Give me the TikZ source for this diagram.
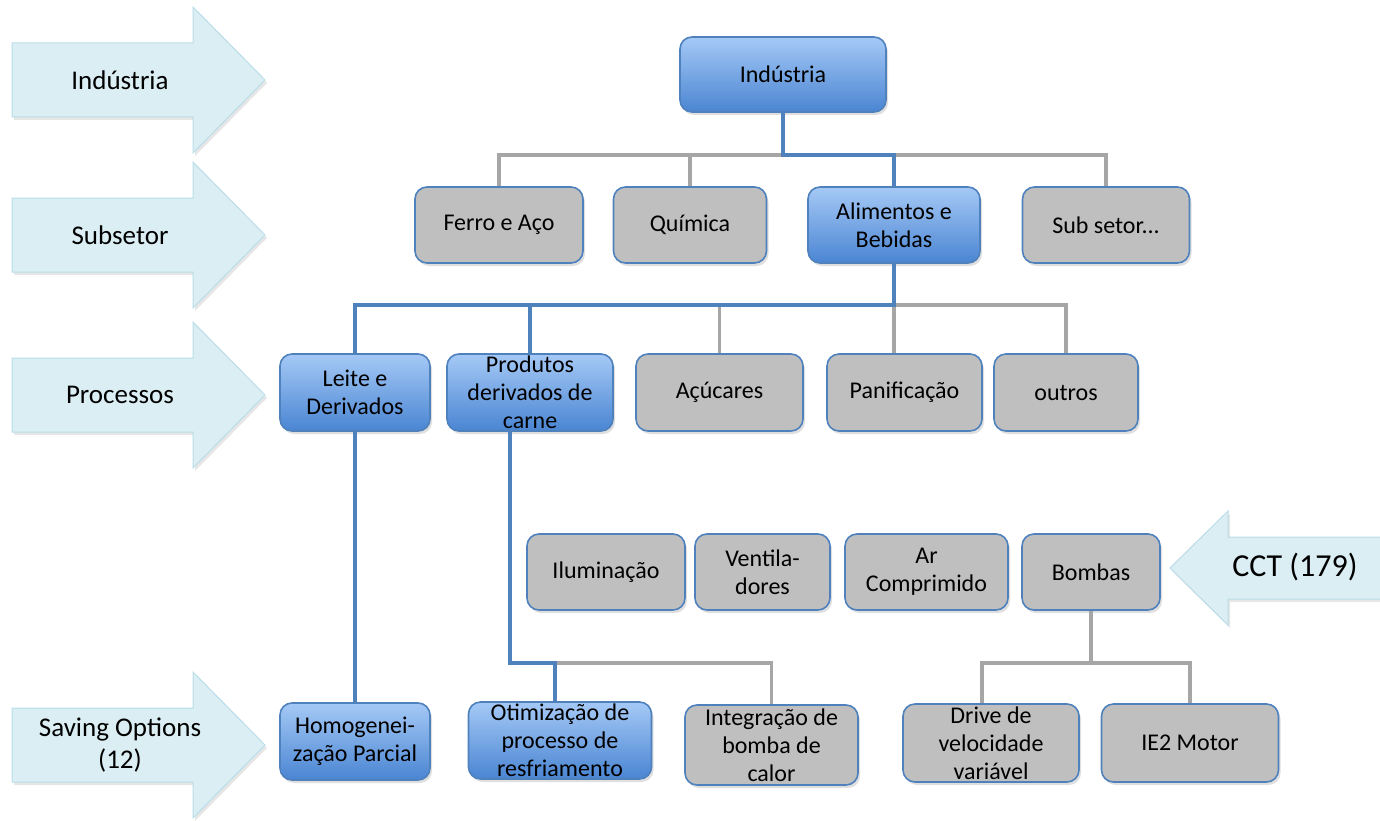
\documentclass[tikz,border=0pt]{standalone}
\usepackage{fontspec}
\setmainfont{Carlito}
\usetikzlibrary{positioning,shadows}

\definecolor{boxline}{HTML}{4F81BD}
\definecolor{boxgray}{HTML}{BFBFBF}
\definecolor{bluetop}{HTML}{A5C9F6}
\definecolor{bluebot}{HTML}{4A85D2}
\definecolor{bandfill}{HTML}{DBEEF4}
\definecolor{bandline}{HTML}{B9DDE9}
\definecolor{linkgray}{HTML}{A6A6A6}

\begin{document}
\begin{tikzpicture}[x=1pt, y=-1pt,
  box/.style={draw=boxline, line width=1.6pt, rounded corners=12pt, inner sep=0pt,
    minimum height=76pt, align=center, font=\fontsize{24}{28}\selectfont,
    drop shadow={opacity=.25, shadow xshift=2pt, shadow yshift=-3pt}},
  gbox/.style={box, fill=boxgray},
  bbox/.style={box, top color=bluetop, bottom color=bluebot},
  band/.style={fill=bandfill, draw=bandline, line width=1pt,
    drop shadow={opacity=.2, shadow xshift=2pt, shadow yshift=-3pt}},
  bandtxt/.style={align=center, inner sep=0pt, font=\fontsize{27}{32}\selectfont},
  gline/.style={draw=linkgray, line width=3.5pt},
  bline/.style={draw=boxline, line width=3.5pt}]
\useasboundingbox (0,0) rectangle (1380,821);

% level arrows on the left
\foreach \yc/\txt [count=\i] in {80/Indústria, 235/Subsetor, 395/Processos, 745/{Saving Options\\(12)}} {
  \draw[band] (12,\yc-37) -- (193,\yc-37) -- (193,\yc-73) -- (265,\yc)
    -- (193,\yc+73) -- (193,\yc+37) -- (12,\yc+37) -- cycle;
  \node[bandtxt] (lev\i) at (120,\yc) {\txt};
}
% CCT arrow on the right
\draw[band] (1381,537) -- (1228,537) -- (1228,511) -- (1170,568)
  -- (1228,625) -- (1228,599) -- (1381,599) -- cycle;
\node[bandtxt, font=\fontsize{32}{38}\selectfont] (cct) at (1295,567) {CCT (179)};

% industry
\node[bbox, minimum width=206pt, minimum height=75pt] (ind) at (783,74.5) {Indústria};

% subsectors
\node[gbox, minimum width=168pt] (ferro) at (499,225) {Ferro e Aço};
\node[gbox, minimum width=153pt] (quim) at (690,225) {Química};
\node[bbox, minimum width=172pt] (alim) at (894,225) {Alimentos e\\Bebidas};
\node[gbox, minimum width=167pt] (subs) at (1106,225) {Sub setor...};

% processes
\node[bbox, minimum width=150pt, minimum height=77pt] (leite) at (355,392.5) {Leite e\\Derivados};
\node[bbox, minimum width=166pt, minimum height=77pt] (prod) at (530,392.5) {Produtos\\derivados de\\carne};
\node[gbox, minimum width=167pt, minimum height=77pt] (acuc) at (719.5,392.5) {Açúcares};
\node[gbox, minimum width=155pt, minimum height=77pt] (panif) at (904.5,392.5) {Panificação};
\node[gbox, minimum width=144pt, minimum height=77pt] (outros) at (1066,392.5) {outros};

% cross-cutting technologies
\node[gbox, minimum width=158pt] (ilum) at (606,572) {Iluminação};
\node[gbox, minimum width=135pt] (vent) at (762.5,572) {Ventila-\\dores};
\node[gbox, minimum width=163pt] (arcomp) at (926.5,572) {Ar\\Comprimido};
\node[gbox, minimum width=138pt] (bombas) at (1091,572) {Bombas};

% saving options
\node[bbox, minimum width=150pt, minimum height=77pt] (homog) at (355,741.5) {Homogenei-\\zação Parcial};
\node[bbox, minimum width=183pt, minimum height=77pt] (otim) at (560,740.5) {Otimização de\\processo de\\resfriamento};
\node[gbox, minimum width=173pt, minimum height=80pt] (integ) at (771.5,745) {Integração de\\bomba de\\calor};
\node[gbox, minimum width=176pt, minimum height=78pt] (drive) at (991,743) {Drive de\\velocidade\\variável};
\node[gbox, minimum width=177pt, minimum height=78pt] (ie2) at (1190,743) {IE2 Motor};

% connector levels
\coordinate (bar1) at (0,155);
\coordinate (bar2) at (0,305);
\coordinate (bar3) at (0,663);

% gray links
\draw[gline] (ferro.north) -- (ferro.north |- bar1) -| (subs.north);
\draw[gline] (quim.north) -- (quim.north |- bar1);
\draw[gline] (alim.south |- bar2) -| (outros.north);
\draw[gline] (acuc.north) -- (acuc.north |- bar2);
\draw[gline] (alim.south |- bar2) -- (alim.south |- panif.north);
\draw[gline] ([xshift=-5pt]otim.north |- bar3) -| (integ.north);
\draw[gline] (bombas.south) -- (bombas.south |- bar3);
\draw[gline] ([xshift=-9pt]drive.north) |- (bar3 -| bombas.south) -| (ie2.north);

% blue path
\draw[bline] (ind.south) -- (ind.south |- bar1) -| (alim.north);
\draw[bline] (alim.south) -- (alim.south |- bar2) -| (leite.north);
\draw[bline] (prod.north) -- (prod.north |- bar2);
\draw[bline] (leite.south) -- (homog.north);
\draw[bline] ([xshift=-20pt]prod.south) coordinate (pd) -- (pd |- bar3) -| ([xshift=-5pt]otim.north);
\end{tikzpicture}
\end{document}
